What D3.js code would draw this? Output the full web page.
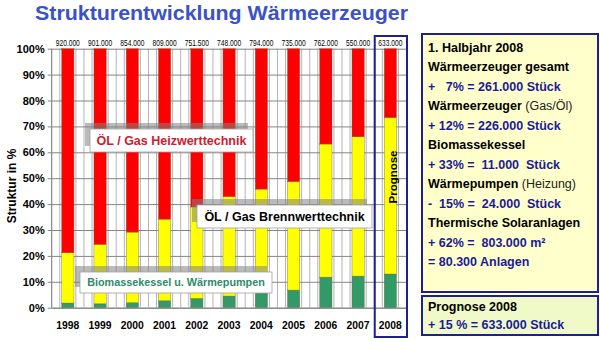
<!DOCTYPE html>
<html><head><meta charset="utf-8">
<script src="https://cdn.jsdelivr.net/npm/d3@7"></script>
<style>body{margin:0;background:#fff}svg{display:block;font-family:"Liberation Sans",Arial,sans-serif}</style>
</head><body><svg id="c" width="600" height="341"></svg>
<script>
const years = ["1998","1999","2000","2001","2002","2003","2004","2005","2006","2007","2008"];
const totals = ["920.000","901.000","854.000","809.000","751.500","748.000","794.000","735.000","762.000","550.000","633.000"];
const biomasse = [1.8, 1.5, 1.9, 2.7, 3.6, 4.5, 5.9, 6.8, 11.8, 12.2, 13.0];
const brennwert = [19.4, 23.0, 27.3, 31.5, 35.3, 38.4, 39.9, 41.9, 51.4, 53.8, 60.4];
const heizwert = [78.8, 75.5, 70.8, 65.8, 61.1, 57.1, 54.2, 51.3, 36.8, 34.0, 26.6];
const yTicks = [0,10,20,30,40,50,60,70,80,90,100];
const infoLines = [
  [["1. Halbjahr 2008","#000","bold"]],
  [["Wärmeerzeuger gesamt","#000","bold"]],
  [["+   7% = 261.000 Stück","#1a1a99","bold"]],
  [["Wärmeerzeuger ","#000","bold"],["(Gas/Öl)","#222","normal"]],
  [["+ 12% = 226.000 Stück","#1a1a99","bold"]],
  [["Biomassekessel","#000","bold"]],
  [["+ 33% =  11.000  Stück","#1a1a99","bold"]],
  [["Wärmepumpen ","#000","bold"],["(Heizung)","#222","normal"]],
  [["-  15% =  24.000  Stück","#1a1a99","bold"]],
  [["Thermische Solaranlagen","#000","bold"]],
  [["+ 62% =  803.000 m²","#1a1a99","bold"]],
  [["= 80.300 Anlagen","#1a1a99","bold"]]
];
const progLines = [
  [["Prognose 2008","#000","bold"]],
  [["+ 15 % = 633.000 Stück","#1a1a99","bold"]]
];

const svg = d3.select("#c");
const L = 51.7, R = 406.5, T = 48.7, B = 307.7;
const x = d3.scaleBand().domain(years).range([L, R]).paddingInner(0.62).paddingOuter(0.31);
const y = d3.scaleLinear().domain([0,100]).range([B, T]);

// title
svg.append("text").attr("x", 35).attr("y", 20).attr("font-size", 20).attr("font-weight","bold")
  .attr("fill","#3a52c6").attr("textLength",373).attr("lengthAdjust","spacingAndGlyphs")
  .text("Strukturentwicklung Wärmeerzeuger");

// vertical gridlines every quarter step
const step = x.step();
const vg = d3.range(0, years.length*4+1).map(i => L + i*step/4);
svg.append("g").selectAll("line").data(vg).join("line")
  .attr("x1", d=>d).attr("x2", d=>d).attr("y1", T).attr("y2", B)
  .attr("stroke","#b4b4b4").attr("stroke-width",1);

// horizontal gridlines via axis
const yAxis = d3.axisLeft(y).tickValues(yTicks).tickSize(-(R-L)).tickFormat(d=>d+"%").tickPadding(8);
const gy = svg.append("g").attr("transform",`translate(${L},0)`).call(yAxis);
gy.select(".domain").remove();
gy.selectAll(".tick line").attr("stroke","#858585").attr("x1",-4);
gy.selectAll(".tick text").attr("font-size",11).attr("font-weight","bold").attr("fill","#000")
  .attr("font-family",'"Liberation Sans",Arial,sans-serif').attr("x",-7);
svg.append("line").attr("x1",L).attr("x2",L).attr("y1",T).attr("y2",B).attr("stroke","#858585");

// bars
const rows = years.map((yr,i)=>({year:yr, bio:biomasse[i], bw:brennwert[i], hw:heizwert[i]}));
const stack = d3.stack().keys(["bio","bw","hw"])(rows);
const colors = {bio:"#339966", bw:"#ffff00", hw:"#ff0000"};
svg.append("g").selectAll("g").data(stack).join("g").attr("fill", d=>colors[d.key])
  .selectAll("rect").data(d=>d).join("rect")
  .attr("x", d=>x(d.data.year)).attr("width", x.bandwidth())
  .attr("y", d=>y(d[1])).attr("height", d=>y(d[0])-y(d[1]))
  .attr("stroke","#6a6a40").attr("stroke-width",0.4);

// x axis labels
const xAxis = d3.axisBottom(x).tickSize(0).tickPadding(13);
const gx = svg.append("g").attr("transform",`translate(0,${B})`).call(xAxis);
gx.select(".domain").attr("stroke","#858585");
gx.selectAll(".tick text").attr("font-size",11.5).attr("font-weight","bold").attr("fill","#000")
  .attr("font-family",'"Liberation Sans",Arial,sans-serif')
  .attr("textLength",23).attr("lengthAdjust","spacingAndGlyphs");

// totals on top
svg.append("g").selectAll("text").data(years).join("text")
  .attr("x", d=>x(d)+x.bandwidth()/2).attr("y", 46).attr("text-anchor","middle")
  .attr("font-size",8.5).attr("textLength",24).attr("lengthAdjust","spacingAndGlyphs")
  .text((d,i)=>totals[i]);

// Prognose box
const px = x("2008") - x.step()*x.paddingInner()/2;
svg.append("rect").attr("x", px+0.5).attr("y",36).attr("width", x.step()).attr("height",301)
  .attr("fill","none").attr("stroke","#1f1f8f").attr("stroke-width",2);
svg.append("text").attr("transform",`translate(${x("2008")+x.bandwidth()/2+6.5},177) rotate(-90)`)
  .attr("text-anchor","middle").attr("font-size",11.5).attr("font-weight","bold").text("Prognose");

// y axis title
svg.append("text").attr("transform","translate(16,186) rotate(-90)").attr("text-anchor","middle")
  .attr("font-size",12).attr("font-weight","bold").text("Struktur in %");

// annotation boxes
function note(bx, by, bw, bh, txt, col, fs){
  svg.append("rect").attr("x",bx-5).attr("y",by-6).attr("width",bw).attr("height",bh)
    .attr("fill","rgba(130,130,130,0.55)");
  svg.append("rect").attr("x",bx).attr("y",by).attr("width",bw).attr("height",bh)
    .attr("fill","#fff").attr("stroke","#a0a0a0").attr("stroke-width",0.8);
  svg.append("text").attr("x",bx+bw/2).attr("y",by+bh/2+fs*0.36).attr("text-anchor","middle")
    .attr("font-size",fs).attr("font-weight","bold").attr("fill",col).text(txt);
}
note(90,129,163,23,"ÖL / Gas Heizwerttechnik","#cc2030",12.5);
note(197,205,175,23,"ÖL / Gas Brennwerttechnik","#000",12.5);
note(80,272,192,21,"Biomassekessel u. Wärmepumpen","#2f8a6c",10.8);

// info boxes
svg.append("rect").attr("x",422).attr("y",34).attr("width",176).attr("height",258)
  .attr("fill","#ffffcc").attr("stroke","#1f1f8f").attr("stroke-width",2);
svg.append("rect").attr("x",422).attr("y",296).attr("width",176).attr("height",39)
  .attr("fill","#f0fac8").attr("stroke","#1f1f8f").attr("stroke-width",2);
function lines(arr, y0, dy){
  arr.forEach((ln,i)=>{
    const t = svg.append("text").attr("x",428).attr("y",y0+i*dy).attr("font-size",12.5)
      .style("white-space","pre");
    ln.forEach(s=>t.append("tspan").attr("fill",s[1]).attr("font-weight",s[2]).text(s[0]));
  });
}
lines(infoLines, 51.5, 19.5);
lines(progLines, 311, 17.5);
</script></body></html>
